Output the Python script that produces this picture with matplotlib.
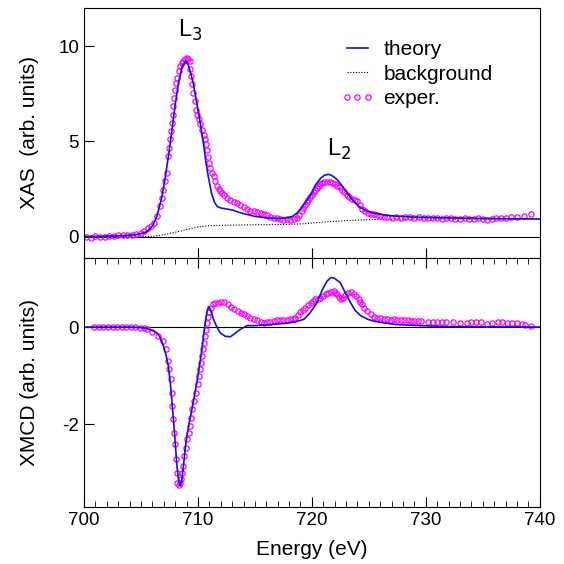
import matplotlib
matplotlib.use('Agg')
import matplotlib.pyplot as plt
from matplotlib.ticker import MultipleLocator

plt.rcParams['font.family'] = ['Liberation Sans', 'DejaVu Sans']
plt.rcParams['axes.unicode_minus'] = False

# ---- XAS (top panel) ----
xas_theory_e = [700, 702, 703.5, 704.5, 705.0, 705.5, 706.0, 706.4, 706.8, 707.1, 707.4, 707.7,
                708.0, 708.3, 708.6, 708.9, 709.15, 709.4, 709.6, 709.9, 710.2, 710.5, 710.7,
                710.9, 711.2, 711.45, 711.7, 712.0, 712.5, 713.1, 713.7, 714.3, 715.0, 716.0,
                717.0, 717.8, 718.3, 718.7, 719.2, 719.6, 719.9, 720.3, 720.75, 721.1, 721.5,
                721.9, 722.2, 722.6, 723.1, 723.6, 724.0, 724.3, 724.8, 725.4, 726.5, 727.5,
                729, 731.9, 735, 740]
xas_theory_v = [0.0, 0.02, 0.05, 0.1, 0.15, 0.25, 0.55, 1.07, 2.0, 3.0, 4.2, 5.5,
                6.9, 8.1, 8.9, 9.22, 9.0, 8.5, 8.0, 7.0, 5.98, 4.8, 3.9,
                3.17, 2.25, 1.8, 1.58, 1.5, 1.45, 1.38, 1.25, 1.16, 1.06, 0.98,
                0.95, 0.98, 1.06, 1.24, 1.6, 1.95, 2.2, 2.7, 3.05, 3.22, 3.27,
                3.15, 3.0, 2.7, 2.3, 1.9, 1.65, 1.51, 1.35, 1.24, 1.12, 1.07,
                1.02, 0.98, 0.95, 0.92]

bg_e = [700, 705, 705.8, 706.5, 707.2, 707.8, 708.4, 709.0, 709.6, 710.2, 710.8, 711.5,
        712.8, 715, 717.2, 718.5, 719.5, 720.2, 721, 722, 723.1, 724.5, 726, 730, 740]
bg_v = [0, 0, 0.01, 0.05, 0.12, 0.2, 0.28, 0.37, 0.45, 0.52, 0.56, 0.58,
        0.6, 0.62, 0.63, 0.65, 0.68, 0.72, 0.76, 0.8, 0.84, 0.88, 0.9, 0.92, 0.93]

xas_exp_e = [700.2, 700.6, 701.0, 701.4, 701.8, 702.2, 702.6, 703.0, 703.4, 703.8, 704.2, 704.6,
             705.0, 705.3, 705.6, 705.85, 706.1, 706.4, 706.68, 706.85, 706.97, 707.12, 707.27,
             707.4, 707.48, 707.56, 707.63, 707.7, 707.78, 707.85, 707.93, 708.0, 708.08, 708.15,
             708.3, 708.44, 708.58, 708.73, 708.88, 709.03, 709.15, 709.26, 709.32, 709.38, 709.5,
             709.6, 709.72, 709.85, 709.95, 710.05, 710.2, 710.35, 710.5, 710.64, 710.72, 710.8,
             710.87, 710.93, 711.08, 711.22, 711.37, 711.52, 711.67, 711.82, 711.96, 712.1, 712.25,
             712.55, 712.84, 713.15, 713.43, 713.7, 714.0, 714.3, 714.6, 714.9, 715.2, 715.5,
             715.8, 716.07, 716.35, 716.65, 716.95, 717.2, 717.5, 717.8, 718.1, 718.4, 718.7,
             718.9, 719.1, 719.25, 719.4, 719.55, 719.7, 719.85, 720.0, 720.15, 720.3, 720.45,
             720.6, 720.75, 720.9, 721.1, 721.35, 721.6, 721.8, 722.0, 722.2, 722.45, 722.65,
             722.85, 723.1, 723.3, 723.5, 723.75, 724.0, 724.2, 724.4, 724.65, 724.9, 725.2,
             725.45, 725.7, 726.0, 726.3, 726.6, 727.0, 727.4, 727.8, 728.2, 728.6, 729.0,
             729.4, 729.8, 730.2, 730.6, 731.0, 731.4, 731.8, 732.2, 732.6, 733.0, 733.4,
             733.8, 734.2, 734.6, 735.0, 735.4, 735.8, 736.2, 736.6, 737.0, 737.5, 738.0,
             738.6, 739.2]
xas_exp_v = [0.0, -0.08, 0.04, -0.02, 0.0, 0.02, 0.05, 0.06, 0.06, 0.08, 0.1, 0.12,
             0.18, 0.28, 0.45, 0.58, 0.72, 1.1, 1.59, 2.05, 2.47, 2.9, 3.35,
             4.22, 4.65, 5.1, 5.55, 5.97, 6.4, 6.85, 7.3, 7.72, 8.05, 8.34,
             8.7, 8.95, 9.1, 9.2, 9.3, 9.35, 9.3, 9.2, 8.8, 8.42, 8.0,
             7.55, 7.1, 6.67, 6.4, 6.15, 5.9, 5.62, 5.35, 5.1, 4.85, 4.57,
             4.2, 3.87, 3.6, 3.35, 3.17, 2.9, 2.64, 2.5, 2.38, 2.28, 2.2,
             2.05, 1.94, 1.84, 1.74, 1.66, 1.56, 1.45, 1.36, 1.33, 1.3, 1.22,
             1.16, 1.12, 1.05, 0.98, 0.96, 0.93, 0.89, 0.9, 0.88, 0.92, 0.98,
             1.12, 1.33, 1.5, 1.68, 1.82, 1.94, 2.07, 2.2, 2.34, 2.47, 2.56,
             2.64, 2.74, 2.82, 2.84, 2.85, 2.84, 2.82, 2.75, 2.68, 2.58, 2.47,
             2.35, 2.2, 2.08, 1.98, 1.92, 1.86, 1.65, 1.45, 1.33, 1.24, 1.18,
             1.16, 1.12, 1.1, 1.05, 1.02, 1.0, 1.02, 1.0, 1.02, 1.03, 1.0,
             1.02, 0.98, 1.0, 0.97, 0.95, 0.92, 0.98, 0.95, 0.92, 0.9, 0.95,
             0.9, 0.93, 0.96, 0.92, 0.88, 0.92, 0.95, 0.98, 0.98, 1.02, 1.05,
             1.1, 1.18]

# ---- XMCD (bottom panel) ----
mcd_theory_e = [700, 704, 705, 705.5, 706.0, 706.4, 706.7, 706.97, 707.2, 707.4, 707.55, 707.7,
                707.94, 708.15, 708.3, 708.44, 708.58, 708.73, 708.88, 709.03, 709.25, 709.47,
                709.7, 709.9, 710.1, 710.35, 710.5, 710.64, 710.8, 710.93, 711.05, 711.2, 711.37,
                711.6, 711.96, 712.4, 712.84, 713.2, 713.7, 714.3, 715.0, 715.8, 716.8, 717.8,
                718.6, 719.3, 719.8, 720.45, 720.9, 721.35, 721.7, 722.0, 722.5, 722.9, 723.4,
                723.8, 724.3, 724.9, 725.45, 726.5, 727.5, 729.5, 731.9, 740]
mcd_theory_v = [0, 0, -0.01, -0.03, -0.07, -0.12, -0.22, -0.39, -0.58, -0.8, -1.1, -1.48,
                -2.17, -2.85, -3.15, -3.26, -3.15, -2.85, -2.5, -2.24, -1.95, -1.69,
                -1.4, -1.14, -0.85, -0.46, -0.15, 0.09, 0.33, 0.42, 0.38, 0.28, 0.16,
                0.03, -0.12, -0.19, -0.2, -0.14, -0.05, 0.03, 0.03, 0.04, 0.06, 0.08,
                0.11, 0.16, 0.28, 0.5, 0.76, 0.95, 1.02, 1.0, 0.91, 0.72, 0.5,
                0.34, 0.23, 0.16, 0.12, 0.08, 0.05, 0.03, 0.01, 0.0]

mcd_exp_e = [700.9, 701.3, 701.7, 702.1, 702.5, 702.9, 703.3, 703.7, 704.1, 704.5, 704.9, 705.25,
             705.57, 706.0, 706.45, 706.9, 707.17, 707.33, 707.48, 707.62, 707.68, 707.76, 707.85,
             707.9, 707.97, 708.06, 708.15, 708.2, 708.3, 708.4, 708.5, 708.58, 708.65, 708.8,
             708.95, 709.08, 709.2, 709.32, 709.42, 709.52, 709.67, 709.82, 709.96, 710.1, 710.18,
             710.26, 710.33, 710.4, 710.5, 710.6, 710.7, 710.8, 710.9, 711.0, 711.14, 711.28,
             711.5, 711.72, 712.0, 712.3, 712.6, 712.9, 713.2, 713.48, 713.75, 714.0, 714.3,
             714.6, 714.9, 715.2, 715.5, 715.8, 716.1, 716.36, 716.65, 716.95, 717.2, 717.5,
             717.8, 718.1, 718.35, 718.56, 718.8, 719.0, 719.2, 719.43, 719.65, 719.9, 720.1,
             720.3, 720.5, 720.75, 721.0, 721.2, 721.45, 721.64, 721.9, 722.05, 722.2, 722.4,
             722.55, 722.7, 722.94, 723.15, 723.4, 723.7, 723.9, 724.1, 724.25, 724.4, 724.6,
             724.85, 725.15, 725.45, 725.7, 726.0, 726.3, 726.6, 726.9, 727.2, 727.5, 727.8,
             728.1, 728.4, 728.7, 729.0, 729.3, 729.6, 730.2, 730.6, 731.0, 731.4, 731.8,
             732.4, 733.0, 733.6, 734.0, 734.4, 734.8, 735.4, 735.8, 736.3, 736.7, 737.1,
             737.6, 738.0, 738.4, 738.7, 739.2]
mcd_exp_v = [0.0, 0.01, 0.01, 0.01, 0.0, 0.01, 0.01, 0.01, 0.0, 0.0, -0.01, -0.02,
             -0.04, -0.11, -0.18, -0.29, -0.46, -0.7, -0.87, -1.07, -1.35, -1.62, -1.9,
             -2.17, -2.41, -2.72, -2.99, -3.21, -3.25, -3.2, -3.13, -3.0, -2.86, -2.65,
             -2.48, -2.31, -2.17, -2.03, -1.86, -1.69, -1.52, -1.35, -1.18, -1.0, -0.86,
             -0.73, -0.6, -0.46, -0.32, -0.18, -0.05, 0.09, 0.2, 0.3, 0.4, 0.47,
             0.49, 0.5, 0.52, 0.51, 0.47, 0.42, 0.37, 0.33, 0.29, 0.26, 0.22,
             0.19, 0.16, 0.14, 0.1, 0.08, 0.1, 0.11, 0.12, 0.14, 0.15, 0.14,
             0.15, 0.16, 0.17, 0.19, 0.24, 0.3, 0.35, 0.4, 0.46, 0.5, 0.54,
             0.57, 0.58, 0.6, 0.64, 0.67, 0.7, 0.72, 0.74, 0.71, 0.67, 0.62,
             0.58, 0.6, 0.65, 0.7, 0.72, 0.69, 0.64, 0.58, 0.52, 0.47, 0.4,
             0.33, 0.26, 0.21, 0.19, 0.18, 0.17, 0.17, 0.15, 0.16, 0.14, 0.15,
             0.14, 0.14, 0.13, 0.12, 0.13, 0.12, 0.1, 0.11, 0.1, 0.1, 0.11,
             0.1, 0.09, 0.09, 0.1, 0.1, 0.11, 0.07, 0.09, 0.1, 0.1, 0.09,
             0.08, 0.09, 0.07, 0.05, 0.02]

blue = '#1010e8'
magenta = '#ff00ff'
fs_tick = 13.5
fs_lab = 15

fig = plt.figure(figsize=(5.64, 5.64), dpi=100)
ax1 = fig.add_axes([0.149, 0.5434, 0.808, 0.4424])
ax2 = fig.add_axes([0.149, 0.101, 0.808, 0.4424])

mk = dict(ls='none', marker='o', ms=3.8, mfc='none', mec=magenta, mew=0.9)

# top panel
ax1.axhline(0, color='black', lw=0.8)
ax1.plot(bg_e, bg_v, color='black', ls=(0, (1, 1.5)), lw=0.8, label='background')
ax1.plot(xas_exp_e, xas_exp_v, label='exper.', **mk)
ax1.plot(xas_theory_e, xas_theory_v, color=blue, lw=1.2, label='theory')
ax1.set_xlim(700, 740)
ax1.set_ylim(-1.1, 12.0)
ax1.set_yticks([0, 5, 10])
ax1.set_xticks([700, 710, 720, 730, 740])
ax1.tick_params(axis='y', direction='in', length=7, labelsize=fs_tick)
ax1.tick_params(axis='x', direction='in', length=7, labelbottom=False)
ax1.set_ylabel('XAS  (arb. units)', fontsize=fs_lab)
ax1.text(709.3, 10.85, 'L$_3$', fontsize=17, ha='center', va='center')
ax1.text(722.4, 4.6, 'L$_2$', fontsize=17, ha='center', va='center')

h, l = ax1.get_legend_handles_labels()
order = [l.index('theory'), l.index('background'), l.index('exper.')]
ax1.legend([h[i] for i in order], [l[i] for i in order], loc='upper right',
           bbox_to_anchor=(0.915, 0.905), borderaxespad=0, frameon=False, fontsize=fs_lab,
           handlelength=1.6, numpoints=3, markerscale=1.0, labelspacing=0.27,
           handletextpad=0.45)

# bottom panel
ax2.axhline(0, color='black', lw=0.8)
ax2.plot(mcd_exp_e, mcd_exp_v, **mk)
ax2.plot(mcd_theory_e, mcd_theory_v, color=blue, lw=1.2)
ax2.set_xlim(700, 740)
ax2.set_ylim(-3.7, 1.43)
ax2.set_yticks([0, -2])
ax2.xaxis.set_major_locator(MultipleLocator(10))
ax2.xaxis.set_minor_locator(MultipleLocator(1))
ax2.tick_params(axis='y', direction='in', length=7, labelsize=fs_tick)
ax2.tick_params(axis='x', which='major', direction='in', length=7, top=True, labelsize=fs_tick)
ax2.tick_params(axis='x', which='minor', direction='in', length=4.5, top=True)
ax2.set_ylabel('XMCD (arb. units)', fontsize=fs_lab)
ax2.set_xlabel('Energy (eV)', fontsize=fs_lab, labelpad=8)

for ax in (ax1, ax2):
    for s in ax.spines.values():
        s.set_linewidth(0.8)
    ax.yaxis.set_label_coords(-0.098, 0.5)

fig.savefig('out.png', dpi=100)
